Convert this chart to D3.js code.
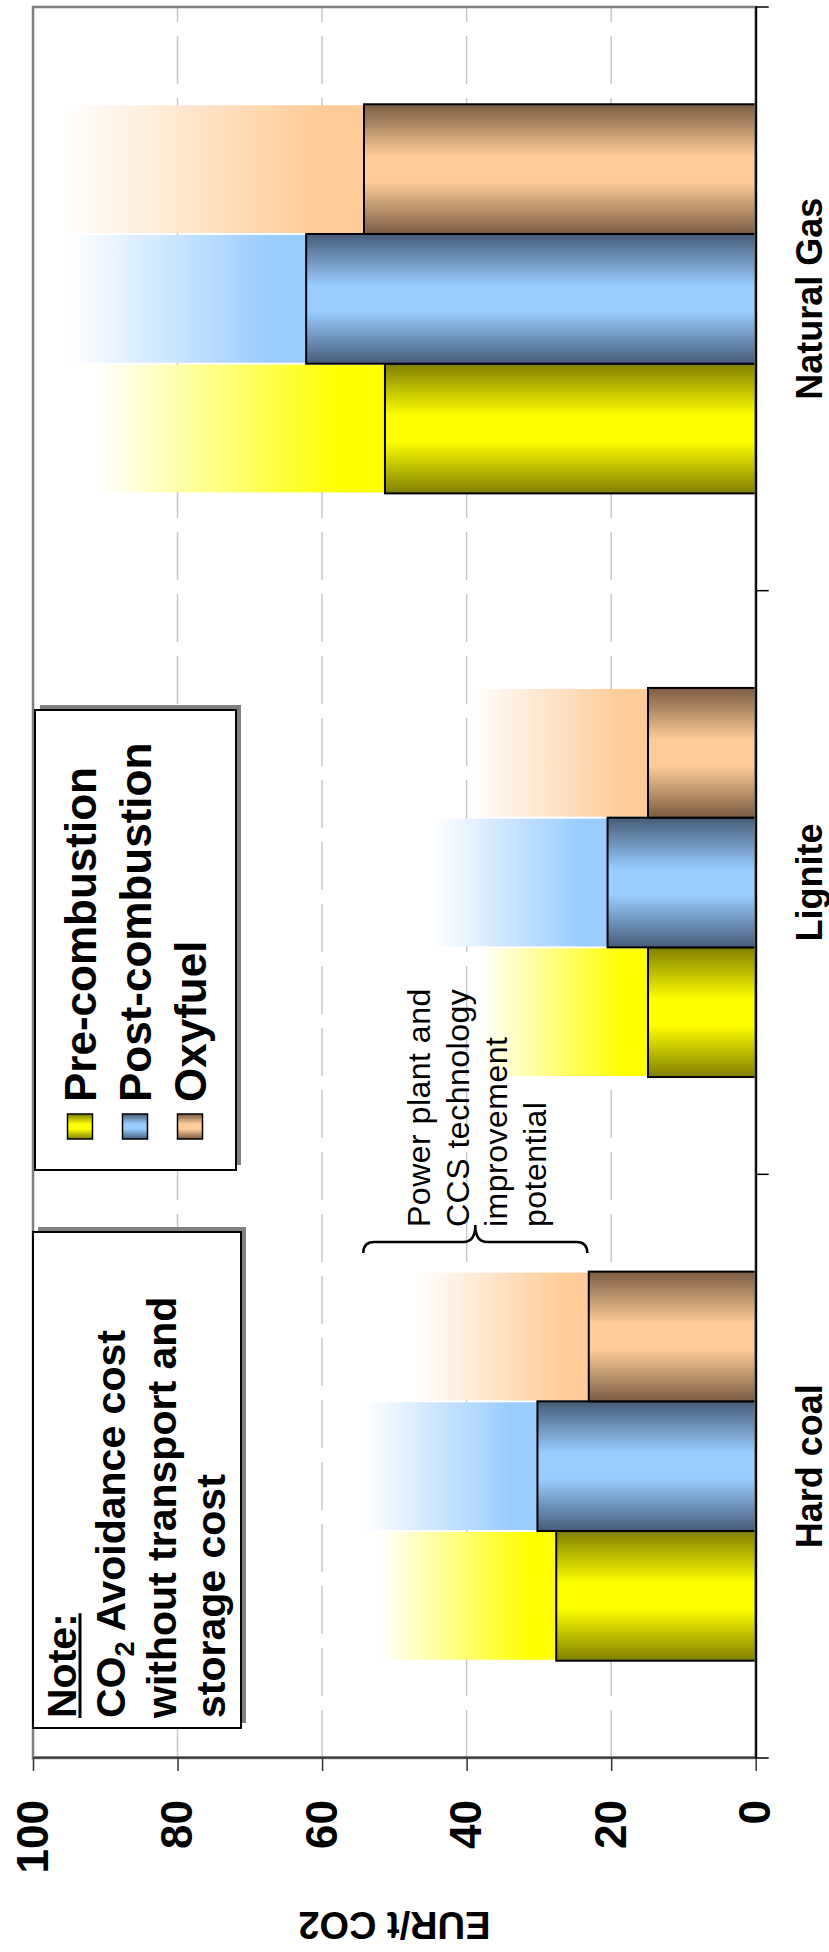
<!DOCTYPE html>
<html>
<head>
<meta charset="utf-8">
<script src="https://cdn.jsdelivr.net/npm/d3@7"></script>
<style>
  html, body { margin: 0; padding: 0; background: #fff; }
  svg { display: block; }
  text { font-family: "Liberation Sans", Arial, sans-serif; }
</style>
</head>
<body>
<svg id="chart" width="829" height="1952"></svg>
<script>
// ---- data ----
const categories = ["Hard coal", "Lignite", "Natural Gas"];
const series = ["Pre-combustion", "Post-combustion", "Oxyfuel"];
const preCombustion = [27.6, 14.9, 51.3];
const postCombustion = [30.2, 20.5, 62.2];
const oxyfuel = [23.1, 14.9, 54.2];
// upper end of the improvement-potential band above each bar
const preUpper = [52, 38, 91];
const postUpper = [54.3, 44.6, 94.9];
const oxyUpper = [47, 39.5, 95.8];
const valueTicks = [0, 20, 40, 60, 80, 100];
const gridValues = [20, 40, 60, 80];
const noteLines = ["without transport and", "storage cost"];
const braceLabel = ["Power plant and", "CCS technology", "improvement", "potential"];

// ---- styling ----
const seriesStyle = {
  "Pre-combustion":  { light: "#FFFF00", dark: "#7F7F00" },
  "Post-combustion": { light: "#99CCFF", dark: "#465C78" },
  "Oxyfuel":         { light: "#FFCC99", dark: "#7A5C42" }
};
const valuesBySeries = {
  "Pre-combustion": preCombustion,
  "Post-combustion": postCombustion,
  "Oxyfuel": oxyfuel
};
const upperBySeries = {
  "Pre-combustion": preUpper,
  "Post-combustion": postUpper,
  "Oxyfuel": oxyUpper
};

const svg = d3.select("#chart");
const W = 1952; // landscape width (drawn rotated into the portrait page)

const defs = svg.append("defs");
series.forEach((s, i) => {
  const st = seriesStyle[s];
  const g1 = defs.append("linearGradient").attr("id", "bar" + i)
    .attr("x1", 0).attr("y1", 0).attr("x2", 1).attr("y2", 0);
  [[0, st.dark], [0.4, st.light], [0.6, st.light], [1, st.dark]].forEach(([o, c]) =>
    g1.append("stop").attr("offset", o).attr("stop-color", c));
  const g2 = defs.append("linearGradient").attr("id", "fade" + i)
    .attr("x1", 0).attr("y1", 0).attr("x2", 0).attr("y2", 1);
  [[0, "#FFFFFF"], [0.85, st.light], [1, st.light]].forEach(([o, c]) =>
    g2.append("stop").attr("offset", o).attr("stop-color", c));
});

// whole chart is laid out in landscape and turned a quarter-turn counter-clockwise
const root = svg.append("g").attr("transform", `translate(0,${W}) rotate(-90)`);

const plotLeft = 194, plotRight = 1945, plotTop = 33, plotBottom = 755.7;

const x0 = d3.scaleBand().domain(categories).range([plotLeft, plotRight]);
const x1 = d3.scaleBand().domain(series).range([0, x0.bandwidth()])
  .paddingOuter(0.75).paddingInner(0);
const y = d3.scaleLinear().domain([0, 100]).range([plotBottom, plotTop]);

// gridlines
root.append("g").selectAll("line").data(gridValues).join("line")
  .attr("x1", plotLeft).attr("x2", plotRight)
  .attr("y1", d => y(d)).attr("y2", d => y(d))
  .attr("stroke", "#C8C8C8").attr("stroke-width", 1.5)
  .attr("stroke-dasharray", "48,14");

// improvement-potential bands and bars
const bars = [];
categories.forEach((c, ci) => series.forEach((s, si) => {
  bars.push({ c, s, si, v: valuesBySeries[s][ci], up: upperBySeries[s][ci] });
}));

root.append("g").selectAll("rect").data(bars).join("rect")
  .attr("x", d => x0(d.c) + x1(d.s) + 1)
  .attr("width", x1.bandwidth() - 2)
  .attr("y", d => y(d.up))
  .attr("height", d => y(d.v) - y(d.up))
  .attr("fill", d => `url(#fade${d.si})`);

root.append("g").selectAll("rect").data(bars).join("rect")
  .attr("x", d => x0(d.c) + x1(d.s))
  .attr("width", x1.bandwidth())
  .attr("y", d => y(d.v))
  .attr("height", d => y(0) - y(d.v))
  .attr("fill", d => `url(#bar${d.si})`)
  .attr("stroke", "#000").attr("stroke-width", 2);

// plot area frame
root.append("rect")
  .attr("x", plotLeft).attr("y", plotTop)
  .attr("width", plotRight - plotLeft).attr("height", plotBottom - plotTop)
  .attr("fill", "none").attr("stroke", "#808080").attr("stroke-width", 2.5);

// value axis
const yAxis = root.append("g").attr("transform", `translate(${plotLeft},0)`)
  .call(d3.axisLeft(y).tickValues(valueTicks).tickSize(13).tickSizeOuter(0).tickPadding(29));
yAxis.select(".domain").attr("stroke", "#333").attr("stroke-width", 2);
yAxis.selectAll(".tick line").attr("stroke", "#333").attr("stroke-width", 1.5);
yAxis.selectAll("text").attr("font-size", 44).attr("font-weight", "bold")
  .attr("fill", "#000").style("font-family", '"Liberation Sans", Arial, sans-serif');

// category axis
const xAxis = root.append("g").attr("transform", `translate(0,${plotBottom})`)
  .call(d3.axisBottom(x0).tickSize(0).tickSizeOuter(0));
xAxis.select(".domain").attr("stroke", "#000").attr("stroke-width", 2);
xAxis.selectAll("text").attr("y", 66).attr("dy", 0)
  .attr("font-size", 36).attr("font-weight", "bold").attr("fill", "#000")
  .style("font-family", '"Liberation Sans", Arial, sans-serif');
const boundaries = categories.map(c => x0(c)).concat([x0.range()[1]]);
root.append("g").selectAll("line").data(boundaries).join("line")
  .attr("x1", d => d).attr("x2", d => d)
  .attr("y1", plotBottom).attr("y2", plotBottom + 13)
  .attr("stroke", "#000").attr("stroke-width", 1.5);

// axis title
root.append("text")
  .attr("transform", `translate(40,${(plotTop + plotBottom) / 2}) rotate(-90)`)
  .attr("text-anchor", "middle")
  .attr("font-size", 38).attr("font-weight", "bold")
  .text("EUR/t CO2");

// legend
const lg = root.append("g").attr("transform", "translate(782,35)");
lg.append("rect").attr("x", 5).attr("y", 5).attr("width", 460).attr("height", 201).attr("fill", "#808080");
lg.append("rect").attr("width", 460).attr("height", 201)
  .attr("fill", "#fff").attr("stroke", "#000").attr("stroke-width", 2);
const entries = lg.selectAll("g.entry").data(series).join("g")
  .attr("class", "entry")
  .attr("transform", (d, i) => `translate(0,${45 + i * 55})`);
entries.append("rect").attr("x", 31).attr("y", -12.5).attr("width", 25).attr("height", 25)
  .attr("fill", (d, i) => `url(#bar${i})`).attr("stroke", "#000").attr("stroke-width", 1.5);
entries.append("text").attr("x", 68).attr("dy", "0.36em")
  .attr("font-size", 44).attr("font-weight", "bold").text(d => d);

// note box
const nb = root.append("g").attr("transform", "translate(224,33)");
nb.append("rect").attr("x", 5).attr("y", 5).attr("width", 496).attr("height", 208).attr("fill", "#808080");
nb.append("rect").attr("width", 496).attr("height", 208)
  .attr("fill", "#fff").attr("stroke", "#000").attr("stroke-width", 2);
const noteT = nb.append("text").attr("x", 10).attr("y", 43)
  .attr("font-size", 41).attr("font-weight", "bold").text("Note:");
const nw = noteT.node().getComputedTextLength();
nb.append("line").attr("x1", 10).attr("x2", 10 + nw).attr("y1", 47).attr("y2", 47)
  .attr("stroke", "#000").attr("stroke-width", 3);
const co2 = nb.append("text").attr("x", 10).attr("y", 92)
  .attr("font-size", 41).attr("font-weight", "bold");
co2.append("tspan").text("CO");
co2.append("tspan").attr("font-size", 27).attr("dy", 9).text("2");
co2.append("tspan").attr("dy", -9).text(" Avoidance cost");
nb.selectAll("text.nl").data(noteLines).join("text").attr("class", "nl")
  .attr("x", 10).attr("y", (d, i) => 143 + i * 49)
  .attr("font-size", 41).attr("font-weight", "bold").text(d => d);

// improvement-potential brace and label
const bu = 710, bEnd = 699, bTip = 727;
const v1 = y(54.3), v2 = y(23.3), vm = (v1 + v2) / 2;
root.append("path")
  .attr("d", `M${bEnd},${v1} Q${bu},${v1} ${bu},${v1 + 11} L${bu},${vm - 12} Q${bu},${vm} ${bTip},${vm}` +
             ` Q${bu},${vm} ${bu},${vm + 12} L${bu},${v2 - 11} Q${bu},${v2} ${bEnd},${v2}`)
  .attr("fill", "none").attr("stroke", "#000").attr("stroke-width", 2.5);
root.append("g").selectAll("text").data(braceLabel).join("text")
  .attr("x", 725).attr("y", (d, i) => 430 + i * 38.5)
  .attr("font-size", 32).attr("letter-spacing", 0.5).text(d => d);
</script>
</body>
</html>
